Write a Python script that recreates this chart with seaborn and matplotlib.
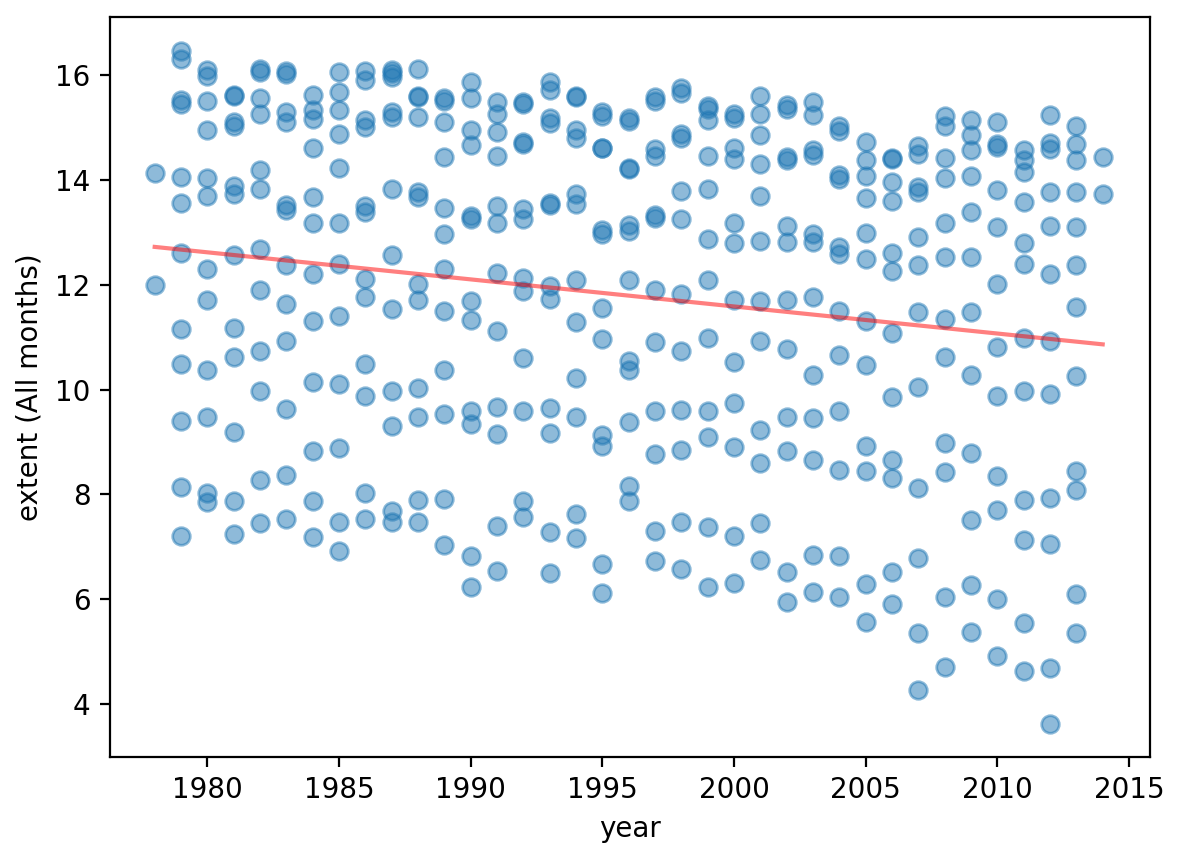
import matplotlib
matplotlib.use("Agg")
import matplotlib.pyplot as plt
import seaborn as sns
import pandas as pd

data = {
1978: [14.12, 12.0],
1979: [16.45, 16.3, 15.52, 15.45, 14.05, 13.55, 12.6, 11.15, 10.48, 9.4, 8.15, 7.2],
1980: [16.1, 15.97, 15.5, 14.95, 14.03, 13.7, 12.3, 11.7, 10.38, 9.47, 8.03, 7.85],
1981: [15.62, 15.6, 15.1, 15.02, 13.88, 13.73, 12.57, 11.17, 10.63, 9.2, 7.87, 7.25],
1982: [16.12, 16.05, 15.55, 15.25, 14.18, 13.82, 12.68, 11.9, 10.73, 9.98, 8.27, 7.45],
1983: [16.08, 16.02, 15.3, 15.1, 13.52, 13.43, 12.37, 11.63, 10.92, 9.63, 8.37, 7.53],
1984: [15.62, 15.33, 15.15, 14.6, 13.68, 13.18, 12.2, 11.3, 10.15, 8.83, 7.87, 7.18],
1985: [16.05, 15.67, 15.33, 14.87, 14.22, 13.18, 12.4, 11.4, 10.1, 8.88, 7.47, 6.93],
1986: [16.07, 15.9, 15.13, 15.0, 13.5, 13.38, 12.1, 11.77, 10.48, 9.88, 8.02, 7.53],
1987: [16.1, 16.03, 15.95, 15.3, 15.2, 13.82, 12.57, 11.53, 9.98, 9.3, 7.68, 7.47],
1988: [16.12, 15.6, 15.58, 15.2, 13.77, 13.68, 12.02, 11.7, 10.03, 9.47, 7.9, 7.48],
1989: [15.55, 15.5, 15.1, 14.43, 13.47, 12.97, 12.3, 11.5, 10.38, 9.53, 7.92, 7.03],
1990: [15.87, 15.55, 14.95, 14.67, 13.3, 13.25, 11.68, 11.32, 9.6, 9.35, 6.82, 6.23],
1991: [15.48, 15.25, 14.92, 14.45, 13.5, 13.17, 12.22, 11.12, 9.67, 9.15, 7.4, 6.55],
1992: [15.48, 15.45, 14.72, 14.68, 13.45, 13.25, 12.13, 11.87, 10.6, 9.6, 7.87, 7.57],
1993: [15.87, 15.72, 15.18, 15.08, 13.55, 13.52, 11.98, 11.73, 9.65, 9.17, 7.28, 6.5],
1994: [15.6, 15.57, 14.95, 14.8, 13.73, 13.53, 12.08, 11.28, 10.22, 9.48, 7.62, 7.17],
1995: [15.3, 15.22, 14.6, 14.6, 13.05, 12.97, 11.55, 10.97, 9.13, 8.93, 6.68, 6.13],
1996: [15.17, 15.12, 14.2, 14.22, 13.13, 13.03, 12.08, 10.55, 10.37, 9.38, 8.17, 7.88],
1997: [15.57, 15.5, 14.58, 14.45, 13.32, 13.28, 11.9, 10.9, 9.6, 8.77, 7.3, 6.73],
1998: [15.75, 15.65, 14.88, 14.8, 13.78, 13.25, 11.83, 10.73, 9.62, 8.85, 7.47, 6.57],
1999: [15.4, 15.35, 15.13, 14.45, 13.83, 12.87, 12.08, 10.98, 9.6, 9.1, 7.38, 6.23],
2000: [15.25, 15.17, 14.6, 14.4, 13.18, 12.8, 11.7, 10.53, 9.75, 8.9, 7.2, 6.32],
2001: [15.6, 15.25, 14.85, 14.3, 13.7, 12.83, 11.68, 10.92, 9.22, 8.6, 7.45, 6.75],
2002: [15.42, 15.35, 14.43, 14.37, 13.12, 12.82, 11.7, 10.78, 9.48, 8.82, 6.52, 5.95],
2003: [15.48, 15.23, 14.57, 14.47, 12.97, 12.82, 11.77, 10.28, 9.45, 8.65, 6.85, 6.15],
2004: [15.03, 14.93, 14.1, 14.02, 12.72, 12.58, 11.5, 10.65, 9.6, 8.47, 6.83, 6.05],
2005: [14.72, 14.37, 14.07, 13.65, 12.98, 12.48, 11.3, 10.47, 8.93, 8.45, 6.3, 5.57],
2006: [14.42, 14.4, 13.95, 13.6, 12.6, 12.27, 11.07, 9.85, 8.65, 8.32, 6.52, 5.92],
2007: [14.65, 14.5, 13.87, 13.77, 12.9, 12.37, 11.48, 10.05, 8.12, 6.78, 5.35, 4.28],
2008: [15.22, 15.02, 14.42, 14.03, 13.18, 12.52, 11.35, 10.63, 8.98, 8.42, 6.05, 4.72],
2009: [15.13, 14.85, 14.57, 14.08, 13.38, 12.52, 11.47, 10.27, 8.8, 7.52, 6.28, 5.38],
2010: [15.1, 14.68, 14.62, 13.8, 13.1, 12.02, 10.82, 9.88, 8.35, 7.7, 6.0, 4.92],
2011: [14.57, 14.38, 14.15, 13.57, 12.8, 12.4, 10.98, 9.98, 7.9, 7.13, 5.55, 4.63],
2012: [15.23, 14.7, 14.58, 13.77, 13.12, 12.2, 10.92, 9.92, 7.93, 7.05, 4.7, 3.62],
2013: [15.02, 14.68, 14.37, 13.77, 13.1, 12.38, 11.58, 10.25, 8.45, 8.08, 6.1, 5.35],
2014: [14.43, 13.73],
}

years = [y for y, vals in data.items() for _ in vals]
extent = [v for vals in data.values() for v in vals]
df = pd.DataFrame({"year": years, "extent (All months)": extent})

fig, ax = plt.subplots(figsize=(5.91, 4.29), dpi=200)
sns.regplot(data=df, x="year", y="extent (All months)", ci=None, ax=ax,
            scatter_kws=dict(alpha=0.5, s=40),
            line_kws=dict(color="red", alpha=0.5, lw=1.5))
ax.set_ylim(3, 17.1)
ax.set_xlim(1976.3, 2015.8)
fig.subplots_adjust(left=0.093, right=0.973, top=0.980, bottom=0.118)
fig.savefig("out.png", dpi=200)
